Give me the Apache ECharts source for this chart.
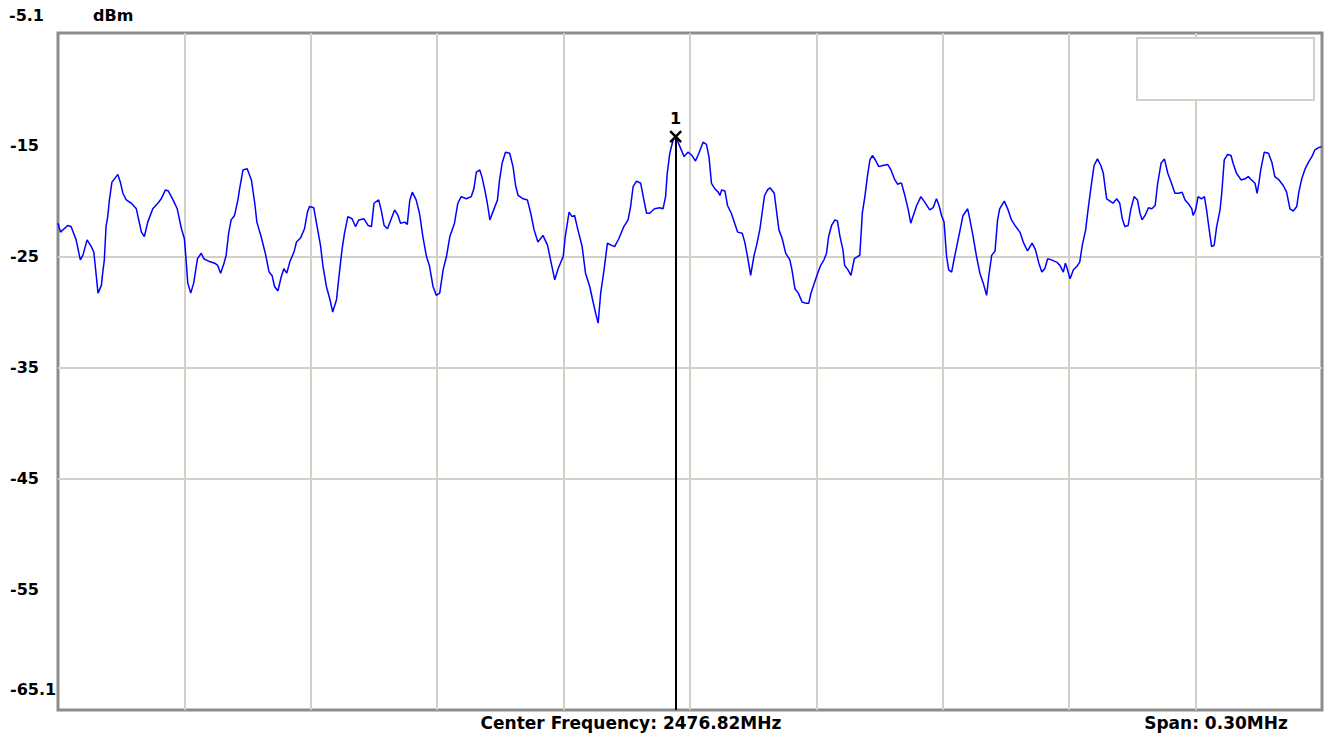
<!DOCTYPE html>
<html>
<head>
<meta charset="utf-8">
<title>Spectrum trace</title>
<script src="https://cdn.jsdelivr.net/npm/echarts@6.0.0/dist/echarts.min.js"></script>
<style>
  html, body { margin: 0; padding: 0; background: #fff; }
  #chart { width: 1324px; height: 741px; }
</style>
</head>
<body>
<div id="chart"></div>
<script>
// frequency offset from start of span (kHz), span = 300 kHz
const offsetKHz = [
  0, 0.6, 2.3, 3.1, 4.3, 5.3, 5.9, 6.9, 7.9, 8.5, 9.1, 9.5, 10.3, 10.6, 11.0, 11.4, 11.8, 12.2, 12.8, 13.4,
  14.2, 14.8, 15.4, 16.2, 17.4, 18.6, 19.1, 19.8, 20.5, 21.3, 22.5, 23.7, 24.5, 25.5, 26.2, 27.3, 28.3, 29.3, 30.0, 30.4,
  30.8, 31.5, 32.2, 33.1, 34.0, 34.6, 35.6, 37.2, 37.9, 38.6, 39.4, 39.9, 40.5, 41.1, 41.9, 42.7, 43.1, 43.9, 44.9, 45.9,
  46.7, 47.2, 48.2, 49.2, 50.1, 50.8, 51.4, 52.2, 53.0, 53.6, 54.3, 55.0, 56.0, 56.6, 57.6, 58.5, 59.2, 59.7, 60.7, 61.5,
  62.3, 62.9, 63.7, 64.5, 65.2, 66.1, 66.6, 67.4, 68.0, 68.8, 69.8, 70.6, 71.4, 72.6, 73.6, 74.4, 75.0, 76.1, 76.7, 77.4,
  78.2, 79.1, 79.9, 80.7, 81.3, 82.3, 82.9, 83.5, 84.1, 85.0, 85.8, 86.6, 87.4, 88.2, 89.0, 89.8, 90.6, 91.4, 92.2, 93.0,
  94.1, 94.9, 95.7, 96.9, 98.1, 98.7, 99.3, 100.1, 100.6, 101.3, 101.9, 102.5, 103.2, 104.3, 104.8, 105.4, 106.2, 107.2, 108.0, 108.6,
  109.2, 110.4, 111.4, 112.2, 113.0, 113.9, 115.1, 116.2, 116.9, 117.9, 118.7, 119.9, 120.4, 121.3, 122.0, 122.6, 123.4, 124.4, 125.2, 126.2,
  127.0, 127.6, 128.2, 128.8, 129.6, 130.4, 131.4, 132.1, 133.1, 134.3, 135.3, 135.9, 136.5, 137.3, 138.3, 138.9, 139.7, 140.4, 141.6, 142.8,
  143.6, 144.2, 144.6, 145.2, 146.0, 146.6, 147.6, 148.6, 149.5, 150.5, 151.3, 152.1, 153.1, 153.9, 154.5, 155.1, 155.9, 156.7, 157.1, 157.5,
  158.3, 158.9, 159.8, 160.6, 161.3, 162.4, 163.0, 163.6, 164.4, 165.2, 165.8, 166.6, 167.1, 167.7, 168.4, 169.0, 170.0, 170.5, 171.1, 171.9,
  172.7, 173.7, 174.2, 174.9, 175.7, 176.6, 177.4, 178.2, 178.7, 179.5, 180.3, 181.0, 181.8, 182.4, 182.9, 183.6, 184.4, 185.0, 185.6, 186.3,
  186.7, 187.5, 188.2, 189.0, 189.8, 190.3, 190.9, 191.5, 192.1, 192.7, 193.3, 194.0, 194.8, 195.8, 196.9, 197.7, 198.5, 199.3, 199.8, 200.2,
  201.0, 201.8, 202.4, 203.0, 203.8, 204.8, 205.7, 206.9, 207.7, 208.5, 209.1, 209.7, 210.3, 210.9, 211.4, 212.1, 212.7, 213.3, 214.0, 214.8,
  215.9, 216.4, 217.2, 218.0, 218.8, 219.6, 220.4, 220.9, 221.6, 222.4, 223.0, 223.5, 224.6, 225.5, 226.3, 227.3, 228.3, 229.1, 230.1, 231.2,
  232.0, 232.8, 233.5, 234.2, 234.9, 235.8, 237.0, 237.8, 238.6, 239.1, 239.6, 240.2, 241.0, 241.8, 242.5, 243.1, 243.9, 244.5, 245.3, 245.9,
  246.7, 247.5, 248.1, 248.6, 248.9, 249.7, 250.4, 251.3, 252.0, 252.6, 253.2, 254.0, 254.6, 255.4, 256.2, 256.8, 257.3, 258.0, 258.8, 259.6,
  260.4, 261.0, 261.8, 262.6, 263.4, 264.2, 265.1, 266.0, 266.8, 267.5, 268.4, 269.1, 269.4, 270.0, 270.6, 271.4, 272.1, 272.6, 273.2, 273.8,
  274.4, 275.0, 275.8, 276.2, 276.8, 277.6, 278.4, 278.9, 279.7, 280.8, 281.7, 282.5, 283.3, 284.1, 284.6, 285.0, 285.5, 286.3, 287.3, 288.1,
  288.8, 289.8, 290.8, 291.6, 292.4, 293.2, 294.0, 294.5, 295.2, 296.0, 296.8, 297.6, 298.3, 299.1, 299.9
];

// measured level (dBm)
const levelDbm = [
  -22.0, -22.8, -22.2, -22.3, -23.5, -25.3, -24.9, -23.5, -24.1, -24.6, -26.8, -28.3, -27.6, -26.5, -25.3, -22.3, -21.4, -19.9, -18.3, -18.0,
  -17.6, -18.3, -19.3, -19.9, -20.2, -20.7, -21.6, -22.8, -23.2, -21.9, -20.7, -20.2, -19.8, -19.0, -19.1, -19.9, -20.7, -22.5, -23.4, -25.3,
  -27.4, -28.3, -27.4, -25.2, -24.7, -25.2, -25.4, -25.6, -25.8, -26.5, -25.6, -24.9, -22.9, -21.7, -21.3, -19.9, -18.9, -17.2, -17.1, -18.1,
  -20.2, -21.9, -23.2, -24.7, -26.4, -26.7, -27.7, -28.1, -26.8, -26.1, -26.5, -25.5, -24.6, -23.7, -23.3, -22.5, -21.0, -20.5, -20.6, -22.3,
  -24.0, -25.9, -27.7, -28.8, -30.0, -28.9, -27.1, -24.4, -22.9, -21.4, -21.6, -22.3, -21.7, -21.6, -22.2, -22.3, -20.2, -19.9, -20.8, -22.2,
  -22.5, -21.6, -20.8, -21.3, -22.0, -21.9, -22.1, -19.9, -19.2, -19.9, -21.1, -23.2, -24.9, -25.9, -27.7, -28.5, -28.3, -26.2, -25.0, -23.2,
  -22.0, -20.2, -19.6, -19.8, -19.6, -18.9, -17.4, -17.2, -17.8, -19.0, -20.2, -21.7, -21.0, -19.9, -18.1, -16.6, -15.6, -15.7, -16.9, -18.6,
  -19.5, -19.8, -19.9, -21.1, -22.6, -23.7, -23.1, -24.0, -25.3, -27.1, -26.1, -25.0, -23.2, -21.0, -21.4, -21.3, -22.6, -24.1, -26.5, -27.7,
  -29.1, -30.1, -31.0, -28.3, -26.2, -23.8, -24.0, -24.1, -23.4, -22.3, -21.7, -20.5, -18.7, -18.2, -18.4, -19.6, -21.1, -21.1, -20.7, -20.6,
  -20.7, -19.6, -17.5, -15.7, -14.5, -14.2, -15.1, -16.0, -15.6, -15.9, -16.4, -15.7, -14.7, -14.9, -16.0, -18.4, -18.9, -19.2, -19.5, -19.0,
  -19.1, -20.4, -21.1, -22.0, -22.8, -22.9, -23.7, -24.9, -26.7, -24.9, -24.0, -22.5, -21.1, -19.5, -19.0, -18.8, -19.3, -20.8, -22.6, -23.4,
  -24.7, -25.3, -26.2, -27.9, -28.3, -29.1, -29.2, -29.2, -28.3, -27.4, -26.5, -25.8, -25.3, -24.7, -23.2, -22.2, -21.7, -21.8, -23.2, -24.4,
  -25.8, -26.2, -26.7, -25.2, -25.0, -24.9, -21.1, -19.6, -17.8, -16.3, -15.9, -16.3, -16.9, -16.8, -16.7, -17.2, -18.0, -18.5, -18.4, -18.4,
  -19.5, -20.8, -22.0, -21.3, -20.4, -19.6, -20.1, -20.8, -20.6, -19.8, -20.4, -21.3, -21.9, -25.0, -26.2, -26.4, -25.2, -24.1, -22.8, -21.3,
  -20.7, -21.6, -23.2, -25.0, -26.5, -27.4, -28.5, -26.8, -24.9, -24.5, -21.7, -20.7, -20.0, -20.8, -21.7, -22.3, -22.8, -23.7, -24.5, -23.8,
  -24.4, -25.6, -26.4, -26.1, -25.2, -25.3, -25.5, -25.8, -26.4, -25.6, -26.2, -27.0, -26.2, -25.9, -25.5, -24.0, -22.6, -20.7, -18.4, -16.8,
  -16.2, -16.8, -17.5, -19.0, -19.8, -20.0, -20.2, -19.8, -20.2, -21.6, -22.3, -22.2, -20.8, -19.6, -19.9, -21.1, -21.7, -21.3, -20.6, -20.7,
  -20.4, -18.4, -16.6, -16.2, -17.5, -18.3, -19.3, -19.3, -19.2, -19.9, -20.3, -20.7, -21.3, -20.8, -19.6, -19.8, -19.6, -20.8, -22.5, -24.1,
  -24.0, -22.3, -20.8, -19.3, -16.3, -15.8, -15.9, -16.6, -17.5, -18.1, -18.0, -17.8, -18.1, -18.4, -19.3, -18.4, -17.1, -15.6, -15.7, -16.5,
  -17.8, -18.1, -18.6, -19.2, -20.7, -20.9, -20.5, -19.2, -18.0, -17.1, -16.5, -16.0, -15.4, -15.2, -15.1
];

const gridDbm = [-55, -45, -35, -25, -15];
const markerKHz = 146.6;
const markerDbm = -14.2;
const markerName = "1";

const topLabel = "-5.1";
const bottomLabel = "-65.1";
const unitLabel = "dBm";
const centerLabel = "Center Frequency: 2476.82MHz";
const spanLabel = "Span: 0.30MHz";

const FONT_FAMILY = "DejaVu Sans";
const GRID_COLOR = "#d4d0c8";

let myChart = echarts.init(document.getElementById("chart"), null, { renderer: "svg" });

const trace = offsetKHz.map((k, i) => [k, levelDbm[i]]);

function label(text, x, y, align, size) {
  return {
    type: "text",
    z: 100,
    style: {
      text: text,
      x: x,
      y: y,
      align: align || "left",
      verticalAlign: "middle",
      fill: "#000",
      font: "bold " + (size || 16) + "px \"" + FONT_FAMILY + "\""
    }
  };
}

let option = {
  animation: false,
  backgroundColor: "#fff",
  grid: {
    left: 58,
    right: 2,
    top: 33,
    bottom: 31,
    show: true,
    backgroundColor: "#fff",
    borderColor: "#8c8c8c",
    borderWidth: 3
  },
  xAxis: {
    type: "value",
    min: 0,
    max: 300,
    interval: 30,
    axisLine: { show: false },
    axisTick: { show: false },
    axisLabel: { show: false },
    splitLine: {
      show: true,
      showMinLine: false,
      showMaxLine: false,
      lineStyle: { color: GRID_COLOR, width: 2 }
    }
  },
  yAxis: {
    type: "value",
    min: -65.86,
    max: -4.86,
    axisLine: { show: false },
    axisTick: { show: false, customValues: gridDbm },
    axisLabel: {
      customValues: gridDbm,
      align: "left",
      margin: 48,
      color: "#000",
      fontFamily: FONT_FAMILY,
      fontWeight: "bold",
      fontSize: 16
    },
    splitLine: {
      show: true,
      showMinLine: false,
      showMaxLine: false,
      lineStyle: { color: GRID_COLOR, width: 2 }
    }
  },
  series: [
    {
      name: "trace",
      type: "line",
      data: trace,
      showSymbol: false,
      symbol: "none",
      silent: true,
      lineStyle: { color: "#0000ff", width: 1.5 },
      z: 3
    },
    {
      name: "marker",
      type: "line",
      data: [],
      silent: true,
      z: 4,
      markLine: {
        silent: true,
        symbol: ["none", "none"],
        label: { show: false },
        lineStyle: { color: "#000", width: 2, type: "solid" },
        data: [[{ coord: [markerKHz, markerDbm] }, { coord: [markerKHz, -65.86] }]]
      },
      markPoint: {
        silent: true,
        symbol: "path://M0,0L10,10M10,0L0,10",
        symbolSize: 11,
        itemStyle: { color: "none", borderColor: "#000", borderWidth: 2.5 },
        label: {
          show: true,
          position: "top",
          distance: 2,
          formatter: markerName,
          color: "#000",
          fontFamily: FONT_FAMILY,
          fontWeight: "bold",
          fontSize: 16
        },
        data: [{ coord: [markerKHz, markerDbm] }]
      }
    }
  ],
  graphic: [
    {
      type: "rect",
      z: 100,
      shape: { x: 1137, y: 38, width: 177, height: 62 },
      style: { fill: "#fff", stroke: GRID_COLOR, lineWidth: 2 }
    },
    label(topLabel, 9, 15),
    label(unitLabel, 93, 15),
    label(bottomLabel, 10, 689),
    label(centerLabel, 631, 723, "center", 17),
    label(spanLabel, 1216, 723, "center", 17)
  ]
};

myChart.setOption(option);
window.addEventListener("resize", () => myChart.resize(), false);
</script>
</body>
</html>
